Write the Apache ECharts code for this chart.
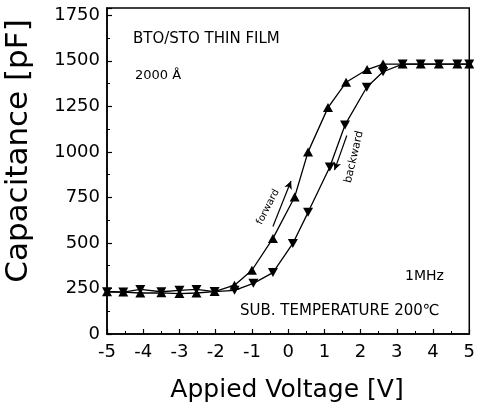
<!DOCTYPE html>
<html>
<head>
<meta charset="utf-8">
<script src="https://cdn.jsdelivr.net/npm/echarts@6/dist/echarts.min.js"></script>
<style>
html,body{margin:0;padding:0;background:#fff;}
#chart{width:478px;height:408px;}
</style>
</head>
<body>
<div id="chart"></div>
<script>
// Forward sweep (up triangles): voltage [V], capacitance [pF]
var forwardV = [-5, -4.55, -4.08, -3.5, -3.0, -2.53, -2.03, -1.48, -1.0, -0.42, 0.18, 0.55, 1.1, 1.6, 2.18, 2.62, 3.16, 3.66, 4.16, 4.67, 5.0];
var forwardC = [232, 230, 225, 226, 222, 225, 233, 268, 350, 525, 752, 1000, 1243, 1382, 1452, 1482, 1482, 1482, 1482, 1482, 1482];
// Backward sweep (down triangles)
var backwardV = [-5, -4.55, -4.08, -3.5, -3.0, -2.53, -2.03, -1.48, -0.96, -0.42, 0.13, 0.55, 1.15, 1.57, 2.17, 2.62, 3.16, 3.66, 4.16, 4.67, 5.0];
var backwardC = [232, 230, 245, 232, 240, 245, 233, 240, 278, 337, 497, 668, 917, 1148, 1355, 1440, 1482, 1482, 1482, 1482, 1482];
// Direction arrows (data coordinates: start -> end)
var forwardArrow = [[-0.42, 590], [0.08, 840]];
var backwardArrow = [[1.62, 1090], [1.28, 900]];
// Axis ticks
var xTicks = [-5, -4, -3, -2, -1, 0, 1, 2, 3, 4, 5];
var yTicks = [0, 250, 500, 750, 1000, 1250, 1500, 1750];

function pairs(xs, ys) { return xs.map(function (x, i) { return [x, ys[i]]; }); }

var FONT = 'DejaVu Sans';
var chart = echarts.init(document.getElementById('chart'), null, {renderer: 'canvas'});
chart.setOption({
  animation: false,
  backgroundColor: '#fff',
  grid: {left: 107, right: 6, top: 8, bottom: 74, show: true, borderColor: '#000', borderWidth: 1.5, containLabel: false},
  xAxis: {
    type: 'value', min: xTicks[0], max: xTicks[xTicks.length - 1], interval: 1,
    axisLine: {show: true, onZero: false, lineStyle: {color: '#000', width: 1.5}},
    axisTick: {show: true, inside: true, length: 5, lineStyle: {color: '#000', width: 1.2}},
    minorTick: {show: true, splitNumber: 2, length: 3, lineStyle: {color: '#000', width: 1}},
    axisLabel: {color: '#000', fontFamily: FONT, fontSize: 18, margin: 9},
    splitLine: {show: false}
  },
  yAxis: {
    type: 'value', min: yTicks[0], max: 1790, interval: 250,
    axisLine: {show: true, onZero: false, lineStyle: {color: '#000', width: 1.5}},
    axisTick: {show: true, inside: true, length: 5, lineStyle: {color: '#000', width: 1.2}},
    minorTick: {show: true, splitNumber: 2, length: 3, lineStyle: {color: '#000', width: 1}},
    axisLabel: {color: '#000', fontFamily: FONT, fontSize: 18, margin: 7,
      formatter: function (v) { return yTicks.indexOf(v) >= 0 ? String(v) : ''; }},
    splitLine: {show: false}
  },
  series: [
    {
      name: 'forward', type: 'line', data: pairs(forwardV, forwardC),
      symbol: 'triangle', symbolSize: [10, 9], showAllSymbol: true,
      lineStyle: {color: '#000', width: 1.3}, itemStyle: {color: '#000'},
      markLine: {
        silent: true, symbol: ['none', 'arrow'], symbolSize: [6, 8], label: {show: false},
        lineStyle: {color: '#000', width: 1.2, type: 'solid'},
        data: [
          [{coord: forwardArrow[0]}, {coord: forwardArrow[1]}],
          [{coord: backwardArrow[0]}, {coord: backwardArrow[1]}]
        ]
      }
    },
    {
      name: 'backward', type: 'line', data: pairs(backwardV, backwardC),
      symbol: 'triangle', symbolRotate: 180, symbolSize: [10, 9], showAllSymbol: true,
      lineStyle: {color: '#000', width: 1.3}, itemStyle: {color: '#000'}
    }
  ],
  graphic: [
    {type: 'text', left: 133, top: 32, style: {text: 'BTO/STO THIN FILM', fontFamily: FONT, fontSize: 15, fill: '#000'}},
    {type: 'text', left: 135, top: 69, style: {text: '2000 Å', fontFamily: FONT, fontSize: 13, fill: '#000'}},
    {type: 'text', left: 405, top: 269, style: {text: '1MHz', fontFamily: FONT, fontSize: 14, fill: '#000'}},
    {type: 'text', left: 240, top: 304, style: {text: 'SUB. TEMPERATURE 200℃', fontFamily: FONT, fontSize: 15, fill: '#000'}},
    {type: 'text', x: 268, y: 207, rotation: 1.10, style: {text: 'forward', fontFamily: FONT, fontSize: 10, fill: '#000', align: 'center', verticalAlign: 'middle'}},
    {type: 'text', x: 354, y: 157, rotation: 1.34, style: {text: 'backward', fontFamily: FONT, fontSize: 11, fill: '#000', align: 'center', verticalAlign: 'middle'}},
    {type: 'text', x: 19, y: 151, rotation: Math.PI / 2, style: {text: 'Capacitance [pF]', fontFamily: FONT, fontSize: 31, fill: '#000', align: 'center', verticalAlign: 'middle'}},
    {type: 'text', x: 287, y: 390, style: {text: 'Appied Voltage [V]', fontFamily: FONT, fontSize: 25, fill: '#000', align: 'center', verticalAlign: 'middle'}}
  ]
});
</script>
</body>
</html>
